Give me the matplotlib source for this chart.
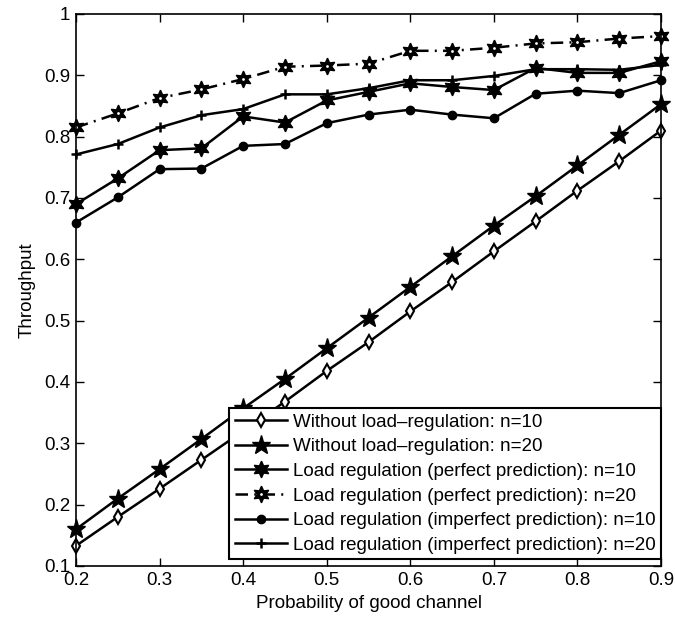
import matplotlib

matplotlib.use("Agg")
import matplotlib.pyplot as plt

plt.rcParams["font.family"] = ["Liberation Sans", "DejaVu Sans"]

p_good = [0.2, 0.25, 0.3, 0.35, 0.4, 0.45, 0.5, 0.55, 0.6, 0.65, 0.7, 0.75, 0.8, 0.85, 0.9]

no_reg_n10 = [0.133, 0.180, 0.226, 0.273, 0.320, 0.368, 0.418, 0.465, 0.515, 0.563, 0.613, 0.662, 0.712, 0.760, 0.810]
no_reg_n20 = [0.160, 0.210, 0.258, 0.307, 0.357, 0.405, 0.455, 0.505, 0.555, 0.605, 0.655, 0.703, 0.753, 0.803, 0.853]
perfect_n10 = [0.690, 0.732, 0.778, 0.781, 0.833, 0.823, 0.859, 0.873, 0.887, 0.881, 0.876, 0.912, 0.904, 0.904, 0.923]
perfect_n20 = [0.815, 0.838, 0.863, 0.877, 0.894, 0.914, 0.916, 0.919, 0.940, 0.940, 0.945, 0.952, 0.954, 0.960, 0.964]
imperfect_n10 = [0.660, 0.701, 0.747, 0.748, 0.785, 0.788, 0.822, 0.836, 0.844, 0.836, 0.830, 0.870, 0.875, 0.871, 0.892]
imperfect_n20 = [0.771, 0.788, 0.815, 0.835, 0.845, 0.869, 0.869, 0.879, 0.892, 0.892, 0.899, 0.910, 0.910, 0.909, 0.917]

x_ticks = [0.2, 0.3, 0.4, 0.5, 0.6, 0.7, 0.8, 0.9]
x_tick_labels = ["0.2", "0.3", "0.4", "0.5", "0.6", "0.7", "0.8", "0.9"]
y_ticks = [0.1, 0.2, 0.3, 0.4, 0.5, 0.6, 0.7, 0.8, 0.9, 1.0]
y_tick_labels = ["0.1", "0.2", "0.3", "0.4", "0.5", "0.6", "0.7", "0.8", "0.9", "1"]

labels = [
    "Without load\u2013regulation: n=10",
    "Without load\u2013regulation: n=20",
    "Load regulation (perfect prediction): n=10",
    "Load regulation (perfect prediction): n=20",
    "Load regulation (imperfect prediction): n=10",
    "Load regulation (imperfect prediction): n=20",
]

hexagram = (6, 1, 0)

fig = plt.figure(figsize=(6.75, 6.25), dpi=100)
ax = fig.add_axes([0.1126, 0.0944, 0.8667, 0.8832])

lw = 1.8
common = dict(color="black", lw=lw, clip_on=False)
l1, = ax.plot(p_good, no_reg_n10, "-", marker="d", ms=7, mfc="white",
              mec="black", mew=1.5, **common)
l2, = ax.plot(p_good, no_reg_n20, "-", marker="*", ms=14, mfc="black",
              mec="black", **common)
l3, = ax.plot(p_good, perfect_n10, "-", marker=hexagram, ms=12, mfc="black",
              mec="black", **common)
l4, = ax.plot(p_good, perfect_n20, "-.", marker=hexagram, ms=12, mfc="black",
              mec="black", dashes=(5, 2.5, 0.8, 2.5), **common)
# small white centre of the open hexagram markers
l4_dot, = ax.plot(p_good, perfect_n20, ls="none", marker="o", ms=2.0,
                  mfc="white", mec="white", mew=0, clip_on=False)
l5, = ax.plot(p_good, imperfect_n10, "-", marker="o", ms=6, mfc="black",
              mec="black", **common)
l6, = ax.plot(p_good, imperfect_n20, "-", marker="+", ms=7, mew=1.8,
              mec="black", **common)

ax.set_xlim(0.2, 0.9)
ax.set_ylim(0.1, 1.0)
ax.set_xticks(x_ticks)
ax.set_xticklabels(x_tick_labels)
ax.set_yticks(y_ticks)
ax.set_yticklabels(y_tick_labels)
ax.tick_params(direction="in", top=True, right=True, length=6, width=1,
               labelsize=13.5, pad=4)
for spine in ax.spines.values():
    spine.set_linewidth(1.2)

ax.set_xlabel("Probability of good channel", fontsize=13.5, labelpad=5)
ax.set_ylabel("Throughput", fontsize=13.5, labelpad=6)

leg = ax.legend([l1, l2, l3, (l4, l4_dot), l5, l6], labels,
                loc="lower right", bbox_to_anchor=(1.0, 0.012),
                fontsize=13.5, frameon=True, fancybox=False,
                edgecolor="black", framealpha=1, borderaxespad=0.0,
                handlelength=2.8, handletextpad=0.3, labelspacing=0.4,
                borderpad=0.3)
leg.get_frame().set_linewidth(1.5)

fig.savefig("out.png", dpi=100)
